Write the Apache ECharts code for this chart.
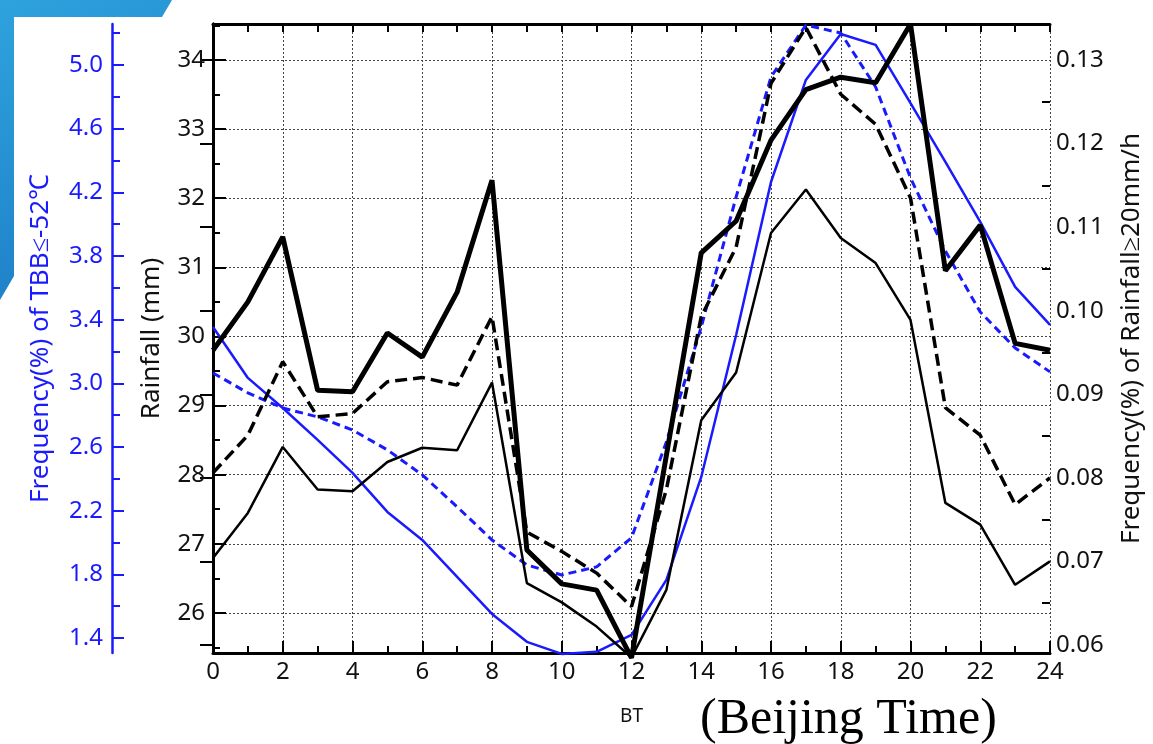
<!DOCTYPE html>
<html>
<head>
  <meta charset="utf-8">
  <title>Diurnal rainfall / TBB frequency</title>
  <script src="https://cdn.jsdelivr.net/npm/echarts@6/dist/echarts.min.js"></script>
  <style>
    html, body { margin: 0; padding: 0; background: #fff; }
    #chart { width: 1153px; height: 744px; }
  </style>
</head>
<body>
<div id="chart"></div>
<script>
  // hours (Beijing Time)
  var hours = [0, 1, 2, 3, 4, 5, 6, 7, 8, 9, 10, 11, 12, 13, 14, 15, 16, 17, 18, 19, 20, 21, 22, 23, 24];

  // rainfall (mm), thick black solid line, left axis
  var rainThick = [29.80, 30.50, 31.44, 29.22, 29.20, 30.05, 29.70, 30.64, 32.26, 26.91, 26.42, 26.33, 25.35,
    28.28, 31.21, 31.67, 32.84, 33.57, 33.75, 33.67, 34.52, 30.95, 31.61, 29.90, 29.80];
  // frequency of rainfall >= 20mm/h, right axis
  var freqThin = [0.0704, 0.0758, 0.0837, 0.0786, 0.0784, 0.0819, 0.0836, 0.0833, 0.0914, 0.0674, 0.0651, 0.0622, 0.0585,
    0.0666, 0.0869, 0.0926, 0.1093, 0.1145, 0.1087, 0.1057, 0.0989, 0.0770, 0.0744, 0.0672, 0.0700];
  var freqDashed = [0.0806, 0.0851, 0.0939, 0.0873, 0.0877, 0.0915, 0.0920, 0.0911, 0.0993, 0.0735, 0.0712, 0.0686, 0.0646,
    0.0786, 0.0993, 0.1076, 0.1272, 0.1339, 0.1259, 0.1223, 0.1135, 0.0884, 0.0851, 0.0768, 0.0800];
  // frequency (%) of TBB <= -52, blue axis
  var tbbSolid = [3.354, 3.034, 2.845, 2.645, 2.437, 2.192, 2.016, 1.784, 1.551, 1.376, 1.300, 1.313, 1.420,
    1.765, 2.412, 3.304, 4.265, 4.906, 5.195, 5.126, 4.761, 4.391, 4.014, 3.606, 3.367];
  var tbbDashed = [3.065, 2.940, 2.845, 2.789, 2.707, 2.582, 2.425, 2.224, 2.016, 1.859, 1.796, 1.847, 2.029,
    2.632, 3.354, 4.171, 4.925, 5.251, 5.201, 4.862, 4.290, 3.832, 3.448, 3.222, 3.072];

  // tick labels
  var rainTicks = [26, 27, 28, 29, 30, 31, 32, 33, 34];
  var rainMinor = [25.5, 26.5, 27.5, 28.5, 29.5, 30.5, 31.5, 32.5, 33.5, 34.5];
  var freqTicks = [0.06, 0.07, 0.08, 0.09, 0.10, 0.11, 0.12, 0.13];
  var freqMinor = [0.065, 0.075, 0.085, 0.095, 0.105, 0.115, 0.125];
  var tbbTicks = [1.4, 1.8, 2.2, 2.6, 3.0, 3.4, 3.8, 4.2, 4.6, 5.0];
  var tbbMinor = [1.6, 2.0, 2.4, 2.8, 3.2, 3.6, 4.0, 4.4, 4.8, 5.2];

  var BLUE = '#1a1aff';
  var FONT = 'Noto Sans';

  function pairs(arr) {
    return hours.map(function (h, i) { return [h, arr[i]]; });
  }

  var chart = echarts.init(document.getElementById('chart'));

  chart.setOption({
    animation: false,
    backgroundColor: '#fff',
    textStyle: {fontFamily: FONT},
    grid: {left: 213, right: 101, top: 24, bottom: 91, containLabel: false},
    graphic: [
      {
        type: 'polygon', z: -10, silent: true,
        shape: {points: [[0, 0], [172, 0], [162, 17], [14, 17], [14, 276], [0, 300]]},
        style: {
          fill: new echarts.graphic.LinearGradient(0, 0, 1, 1, [
            {offset: 0, color: '#2ea3dd'},
            {offset: 1, color: '#1b78c4'}
          ])
        }
      },
      {
        type: 'text', left: 700, top: 695, silent: true,
        style: {text: '(Beijing Time)', font: '50px "Liberation Serif"', fill: '#000'}
      }
    ],
    xAxis: [
      {
        type: 'value', min: 0, max: 24, interval: 2, position: 'bottom',
        name: 'BT', nameLocation: 'middle', nameGap: 54,
        nameTextStyle: {fontSize: 19, color: '#111', fontFamily: FONT},
        axisLine: {show: true, onZero: false, lineStyle: {color: '#000', width: 3}},
        axisTick: {show: true, inside: true, length: 12, lineStyle: {color: '#000', width: 2}},
        minorTick: {show: true, splitNumber: 2, length: 7, lineStyle: {color: '#000', width: 2}},
        axisLabel: {fontSize: 24, color: '#111', margin: 7, fontFamily: FONT},
        splitLine: {show: true, lineStyle: {color: '#444', width: 1, type: [2, 2]}}
      },
      {
        type: 'value', min: 0, max: 24, interval: 1, position: 'top',
        axisLine: {show: true, onZero: false, lineStyle: {color: '#000', width: 3}},
        axisTick: {show: true, inside: true, length: 8, lineStyle: {color: '#000', width: 2}},
        axisLabel: {show: false},
        splitLine: {show: false}
      }
    ],
    yAxis: [
      { // rainfall
        type: 'value', min: 25.42, max: 34.52, position: 'left',
        name: 'Rainfall (mm)', nameLocation: 'middle', nameGap: 48,
        nameTextStyle: {fontSize: 26, color: '#111', fontFamily: FONT},
        axisLine: {show: true, lineStyle: {color: '#000', width: 3}},
        axisTick: {show: true, inside: true, length: 13, customValues: rainTicks, lineStyle: {color: '#000', width: 2}},
        axisLabel: {fontSize: 24, color: '#111', margin: 8, customValues: rainTicks, fontFamily: FONT},
        splitLine: {show: true, lineStyle: {color: '#444', width: 1, type: [2, 2]}}
      },
      { // rainfall >= 20mm/h frequency
        type: 'value', min: 0.05904, max: 0.13431, position: 'right',
        name: 'Frequency(%) of Rainfall≥20mm/h', nameLocation: 'middle', nameGap: 69,
        nameTextStyle: {fontSize: 26, color: '#111', fontFamily: FONT},
        axisLine: {show: true, lineStyle: {color: '#000', width: 3}},
        axisTick: {show: true, inside: true, length: 13, customValues: freqTicks, lineStyle: {color: '#000', width: 2}},
        axisLabel: {
          fontSize: 24, color: '#111', margin: 6, customValues: freqTicks, fontFamily: FONT,
          formatter: function (v) { return v.toFixed(2); }
        },
        splitLine: {show: false}
      },
      { // TBB frequency
        type: 'value', min: 1.3058, max: 5.2575, position: 'left', offset: 101,
        name: 'Frequency(%) of TBB≤-52℃', nameLocation: 'middle', nameGap: 58,
        nameTextStyle: {fontSize: 26, color: BLUE, fontFamily: FONT},
        axisLine: {show: true, lineStyle: {color: BLUE, width: 2.5}},
        axisTick: {show: true, inside: true, length: 12, customValues: tbbTicks, lineStyle: {color: BLUE, width: 2}},
        axisLabel: {
          fontSize: 24, color: BLUE, margin: 9, customValues: tbbTicks, fontFamily: FONT,
          formatter: function (v) { return v.toFixed(1); }
        },
        splitLine: {show: false}
      },
      // minor ticks
      {
        type: 'value', min: 25.42, max: 34.52, position: 'left',
        axisLine: {show: false},
        axisTick: {show: true, inside: true, length: 7, customValues: rainMinor, lineStyle: {color: '#000', width: 2}},
        axisLabel: {show: false}, splitLine: {show: false}
      },
      {
        type: 'value', min: 0.05904, max: 0.13431, position: 'right',
        axisLine: {show: false},
        axisTick: {show: true, inside: true, length: 8, customValues: freqMinor, lineStyle: {color: '#000', width: 2}},
        axisLabel: {show: false}, splitLine: {show: false}
      },
      {
        type: 'value', min: 1.3058, max: 5.2575, position: 'left', offset: 101,
        axisLine: {show: false},
        axisTick: {show: true, inside: true, length: 8, customValues: tbbMinor, lineStyle: {color: BLUE, width: 2}},
        axisLabel: {show: false}, splitLine: {show: false}
      }
    ],
    series: [
      {
        type: 'line', name: 'tbb dashed', yAxisIndex: 2, data: pairs(tbbDashed),
        symbol: 'none', clip: false, z: 3,
        lineStyle: {color: BLUE, width: 3, type: [8, 5]}
      },
      {
        type: 'line', name: 'tbb solid', yAxisIndex: 2, data: pairs(tbbSolid),
        symbol: 'none', clip: false, z: 3,
        lineStyle: {color: BLUE, width: 2.5}
      },
      {
        type: 'line', name: 'freq thin', yAxisIndex: 1, data: pairs(freqThin),
        symbol: 'none', clip: false, z: 4,
        lineStyle: {color: '#000', width: 2.5}
      },
      {
        type: 'line', name: 'freq dashed', yAxisIndex: 1, data: pairs(freqDashed),
        symbol: 'none', clip: false, z: 4,
        lineStyle: {color: '#000', width: 3.5, type: [12, 6]}
      },
      {
        type: 'line', name: 'rainfall', yAxisIndex: 0, data: pairs(rainThick),
        symbol: 'none', clip: false, z: 5,
        lineStyle: {color: '#000', width: 5}
      }
    ]
  });
</script>
</body>
</html>
